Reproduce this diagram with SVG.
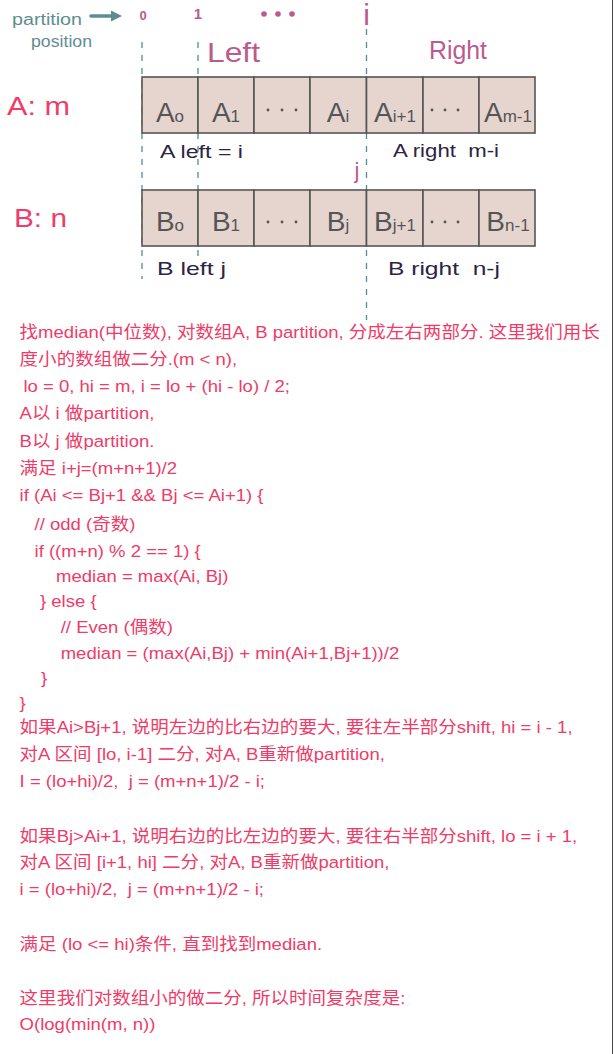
<svg xmlns="http://www.w3.org/2000/svg" width="614" height="1054" viewBox="0 0 614 1054">
<style>
text{white-space:pre}
.hand{font-family:"Liberation Sans","Noto Sans",sans-serif}
.teal{fill:#5f8d91}
.mauve{fill:#bb5a8f}
.navy{fill:#2d2345;font-size:19px}
.cell{fill:#e6d4ce;stroke:#555;stroke-width:1.6}
.lbl{font-family:"Liberation Sans",sans-serif;font-size:28px;fill:#555;text-anchor:middle}
.sub{font-size:17px}
.dot{fill:#555}
.dash{stroke:#4e8f96;stroke-width:1.3;stroke-dasharray:6 7;fill:none}
.big{font-family:"Liberation Sans",sans-serif;fill:#f03c68}
.body{font-family:"Liberation Sans","Noto Sans CJK SC",sans-serif;font-size:17px;fill:#ef3b68}
</style>
<rect width="614" height="1054" fill="#fff"/>
<line x1="612.5" y1="0" x2="612.5" y2="1054" stroke="#444" stroke-width="1"/>

<g id="connectors">
  <line class="dash" x1="142" y1="42" x2="142" y2="279"/>
  <line class="dash" x1="198" y1="42" x2="198" y2="258"/>
  <line class="dash" x1="366.5" y1="29" x2="366.5" y2="320"/>
  <line x1="91" y1="16" x2="112" y2="16" stroke="#5f8d91" stroke-width="3.5" stroke-linecap="round"/>
  <polygon points="111,10.5 122,16 111,21.5" fill="#5f8d91"/>
</g>

<g id="header">
  <text class="hand teal" x="12" y="25" font-size="16" textLength="70" lengthAdjust="spacingAndGlyphs">partition</text>
  <text class="hand teal" x="31" y="47" font-size="16" textLength="61" lengthAdjust="spacingAndGlyphs">position</text>
  <text class="hand mauve" x="143" y="20" font-size="13" font-weight="bold" text-anchor="middle">0</text>
  <text class="hand mauve" x="198" y="19" font-size="15" font-weight="bold" text-anchor="middle">1</text>
  <circle class="mauve" cx="264" cy="14" r="2.8"/>
  <circle class="mauve" cx="278" cy="14" r="2.8"/>
  <circle class="mauve" cx="292" cy="14" r="2.8"/>
  <text class="hand mauve" x="366.5" y="25" font-size="30" text-anchor="middle">i</text>
  <text class="hand mauve" x="207" y="62" font-size="28" textLength="53" lengthAdjust="spacingAndGlyphs">Left</text>
  <text class="hand mauve" x="429" y="59" font-size="26" textLength="58" lengthAdjust="spacingAndGlyphs">Right</text>
  <text class="hand mauve" x="357" y="178" font-size="22" text-anchor="middle">j</text>
</g>

<g id="arrayA">
  <text class="big" x="7" y="115" font-size="26" textLength="63" lengthAdjust="spacingAndGlyphs">A: m</text>
  <rect class="cell" x="142" y="77" width="56" height="56"/>
  <rect class="cell" x="198" y="77" width="56" height="56"/>
  <rect class="cell" x="254" y="77" width="56" height="56"/>
  <rect class="cell" x="310" y="77" width="56.5" height="56"/>
  <rect class="cell" x="366.5" y="77" width="56.5" height="56"/>
  <rect class="cell" x="423" y="77" width="56" height="56"/>
  <rect class="cell" x="479" y="77" width="56" height="56"/>
  <text class="lbl" x="170" y="122">A<tspan class="sub">o</tspan></text>
  <text class="lbl" x="226" y="122">A<tspan class="sub">1</tspan></text>
  <circle class="dot" cx="268" cy="110" r="1.4"/><circle class="dot" cx="282" cy="110" r="1.4"/><circle class="dot" cx="296" cy="110" r="1.4"/>
  <text class="lbl" x="338" y="122">A<tspan class="sub">i</tspan></text>
  <text class="lbl" x="395" y="122">A<tspan class="sub">i+1</tspan></text>
  <circle class="dot" cx="432" cy="110" r="1.4"/><circle class="dot" cx="445" cy="110" r="1.4"/><circle class="dot" cx="458" cy="110" r="1.4"/>
  <text class="lbl" x="508" y="122">A<tspan class="sub">m-1</tspan></text>
  <text class="hand navy" x="160" y="158" textLength="83" lengthAdjust="spacingAndGlyphs">A left = i</text>
  <text class="hand navy" x="393" y="157" textLength="106" lengthAdjust="spacingAndGlyphs">A right  m-i</text>
</g>

<g id="arrayB">
  <text class="big" x="14" y="227" font-size="26" textLength="53" lengthAdjust="spacingAndGlyphs">B: n</text>
  <rect class="cell" x="142" y="190" width="56" height="56"/>
  <rect class="cell" x="198" y="190" width="56" height="56"/>
  <rect class="cell" x="254" y="190" width="56" height="56"/>
  <rect class="cell" x="310" y="190" width="56.5" height="56"/>
  <rect class="cell" x="366.5" y="190" width="56.5" height="56"/>
  <rect class="cell" x="423" y="190" width="56" height="56"/>
  <rect class="cell" x="479" y="190" width="56" height="56"/>
  <text class="lbl" x="170" y="231">B<tspan class="sub">o</tspan></text>
  <text class="lbl" x="226" y="231">B<tspan class="sub">1</tspan></text>
  <circle class="dot" cx="268" cy="222" r="1.4"/><circle class="dot" cx="282" cy="222" r="1.4"/><circle class="dot" cx="296" cy="222" r="1.4"/>
  <text class="lbl" x="338" y="231">B<tspan class="sub">j</tspan></text>
  <text class="lbl" x="395" y="231">B<tspan class="sub">j+1</tspan></text>
  <circle class="dot" cx="432" cy="222" r="1.4"/><circle class="dot" cx="445" cy="222" r="1.4"/><circle class="dot" cx="458" cy="222" r="1.4"/>
  <text class="lbl" x="508" y="231">B<tspan class="sub">n-1</tspan></text>
  <text class="hand navy" x="157" y="275" textLength="69" lengthAdjust="spacingAndGlyphs">B left j</text>
  <text class="hand navy" x="388" y="275" textLength="112" lengthAdjust="spacingAndGlyphs">B right  n-j</text>
</g>

<g id="explanation" class="body" transform="scale(1.09 1)">
  <text x="18" y="338">找median(中位数), 对数组A, B partition, 分成左右两部分. 这里我们用长</text>
  <text x="18" y="365">度小的数组做二分.(m &lt; n),</text>
  <text x="21.5" y="392">lo = 0, hi = m, i = lo + (hi - lo) / 2;</text>
  <text x="18" y="419">A以 i 做partition,</text>
  <text x="18" y="447">B以 j 做partition.</text>
  <text x="18" y="474">满足 i+j=(m+n+1)/2</text>
  <text x="18" y="501">if (Ai &lt;= Bj+1 &amp;&amp; Bj &lt;= Ai+1) {</text>
  <text x="31.7" y="530">// odd (奇数)</text>
  <text x="31.7" y="557">if ((m+n) % 2 == 1) {</text>
  <text x="51.4" y="582">median = max(Ai, Bj)</text>
  <text x="36.7" y="607">} else {</text>
  <text x="55.7" y="633">// Even (偶数)</text>
  <text x="55.7" y="659">median = (max(Ai,Bj) + min(Ai+1,Bj+1))/2</text>
  <text x="37.6" y="684">}</text>
  <text x="18" y="709">}</text>
  <text x="18" y="733">如果Ai&gt;Bj+1, 说明左边的比右边的要大, 要往左半部分shift, hi = i - 1,</text>
  <text x="18" y="760">对A 区间 [lo, i-1] 二分, 对A, B重新做partition,</text>
  <text x="18" y="787">I = (lo+hi)/2,  j = (m+n+1)/2 - i;</text>
  <text x="18" y="842">如果Bj&gt;Ai+1, 说明右边的比左边的要大, 要往右半部分shift, lo = i + 1,</text>
  <text x="18" y="868">对A 区间 [i+1, hi] 二分, 对A, B重新做partition,</text>
  <text x="18" y="895">i = (lo+hi)/2,  j = (m+n+1)/2 - i;</text>
  <text x="18" y="950">满足 (lo &lt;= hi)条件, 直到找到median.</text>
  <text x="18" y="1004">这里我们对数组小的做二分, 所以时间复杂度是:</text>
  <text x="18" y="1030">O(log(min(m, n))</text>
</g>
</svg>
